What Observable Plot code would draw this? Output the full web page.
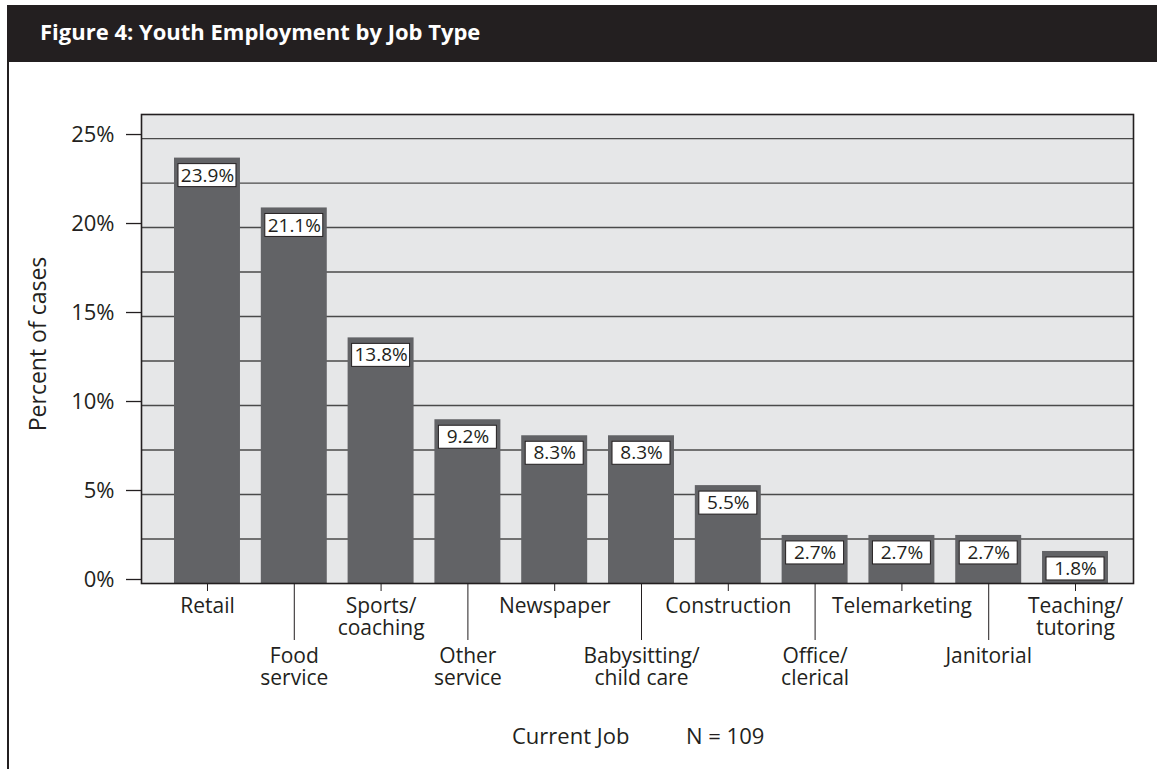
<!DOCTYPE html>
<html>
<head>
<meta charset="utf-8">
<script src="https://cdn.jsdelivr.net/npm/d3@7"></script>
<script src="https://cdn.jsdelivr.net/npm/@observablehq/plot@0.6"></script>
<style>
  html, body { margin: 0; padding: 0; background: #fff; }
  body { width: 1157px; height: 769px; position: relative; overflow: hidden; font-family: "Open Sans", sans-serif; color: #231f20; }
  #header { position: absolute; left: 7px; top: 5px; right: 0; height: 57px; background: #231f20; }
  #header h1 { margin: 0; position: absolute; left: 33px; top: 15px; font-size: 22px; line-height: 1; font-weight: 700; color: #fff; font-family: "Open Sans", sans-serif; }
  #leftrule { position: absolute; left: 7px; top: 62px; width: 2px; height: 707px; background: #231f20; }
  #chart { position: absolute; left: 0; top: 62px; }
  .cap { position: absolute; top: 724px; font-size: 22px; line-height: 1; white-space: pre; }
</style>
</head>
<body>
<div id="header"><h1>Figure 4: Youth Employment by Job Type</h1></div>
<div id="leftrule"></div>
<div id="chart"></div>
<div class="cap" style="left:512px">Current Job</div>
<div class="cap" style="left:686px">N = 109</div>
<script>
const jobs = ["Retail", "Food\nservice", "Sports/\ncoaching", "Other\nservice", "Newspaper",
  "Babysitting/\nchild care", "Construction", "Office/\nclerical", "Telemarketing", "Janitorial", "Teaching/\ntutoring"];
const percents = [23.9, 21.1, 13.8, 9.2, 8.3, 8.3, 5.5, 2.7, 2.7, 2.7, 1.8];
const valueLabels = ["23.9%", "21.1%", "13.8%", "9.2%", "8.3%", "8.3%", "5.5%", "2.7%", "2.7%", "2.7%", "1.8%"];
const yTicks = [0, 5, 10, 15, 20, 25];
const gridTicks = [2.5, 5, 7.5, 10, 12.5, 15, 17.5, 20, 22.5, 25];

const data = jobs.map((job, i) => ({job, value: percents[i], label: valueLabels[i]}));
const rowOne = jobs.filter((d, i) => i % 2 === 0);
const rowTwo = jobs.filter((d, i) => i % 2 === 1);
const ink = "#231f20";

const chart = Plot.plot({
  width: 1157,
  height: 707,
  marginTop: 52,
  marginLeft: 141,
  marginRight: 24,
  marginBottom: 186,
  style: {fontFamily: "Open Sans, sans-serif", fontSize: "21px", color: ink, background: "transparent"},
  x: {type: "band", domain: jobs, range: [174, 1108], paddingInner: 0.24, paddingOuter: 0, round: false, label: null},
  y: {domain: [0, 26.35], label: null},
  marks: [
    Plot.frame({fill: "#e6e7e8", stroke: null}),
    Plot.gridY({ticks: gridTicks, stroke: "#4a4a4a", strokeOpacity: 1, strokeWidth: 1.3}),
    Plot.barY(data, {x: "job", y: "value", fill: "#626366"}),
    Plot.barY(data, {x: "job", y1: "value", y2: "value", insetTop: 6, insetBottom: -29, insetLeft: 4, insetRight: 4, fill: "#fff", stroke: ink, strokeWidth: 1}),
    Plot.text(data, {x: "job", y: "value", text: "label", dy: 17.5, lineAnchor: "middle", fontSize: 19, fill: ink}),
    Plot.frame({stroke: ink, strokeWidth: 1.6, fill: null}),
    Plot.axisY({ticks: yTicks, tickSize: 15, tickPadding: 12, dy: -4, tickFormat: d => d + "%", label: null, stroke: ink, strokeWidth: 1.3, fill: ink, fontSize: 22}),
    Plot.axisX({ticks: rowOne, tickSize: 8, tickPadding: 6, lineHeight: 1.05, label: null, stroke: ink, fill: ink, fontSize: 21}),
    Plot.axisX({ticks: rowTwo, tickSize: 57, tickPadding: 7, lineHeight: 1.05, label: null, stroke: ink, fill: ink, fontSize: 21}),
    Plot.text(["Percent of cases"], {frameAnchor: "left", textAnchor: "middle", lineAnchor: "middle", rotate: -90, dx: -103, dy: -5, fontSize: 23, fill: ink})
  ]
});
document.getElementById("chart").append(chart);
</script>
</body>
</html>
